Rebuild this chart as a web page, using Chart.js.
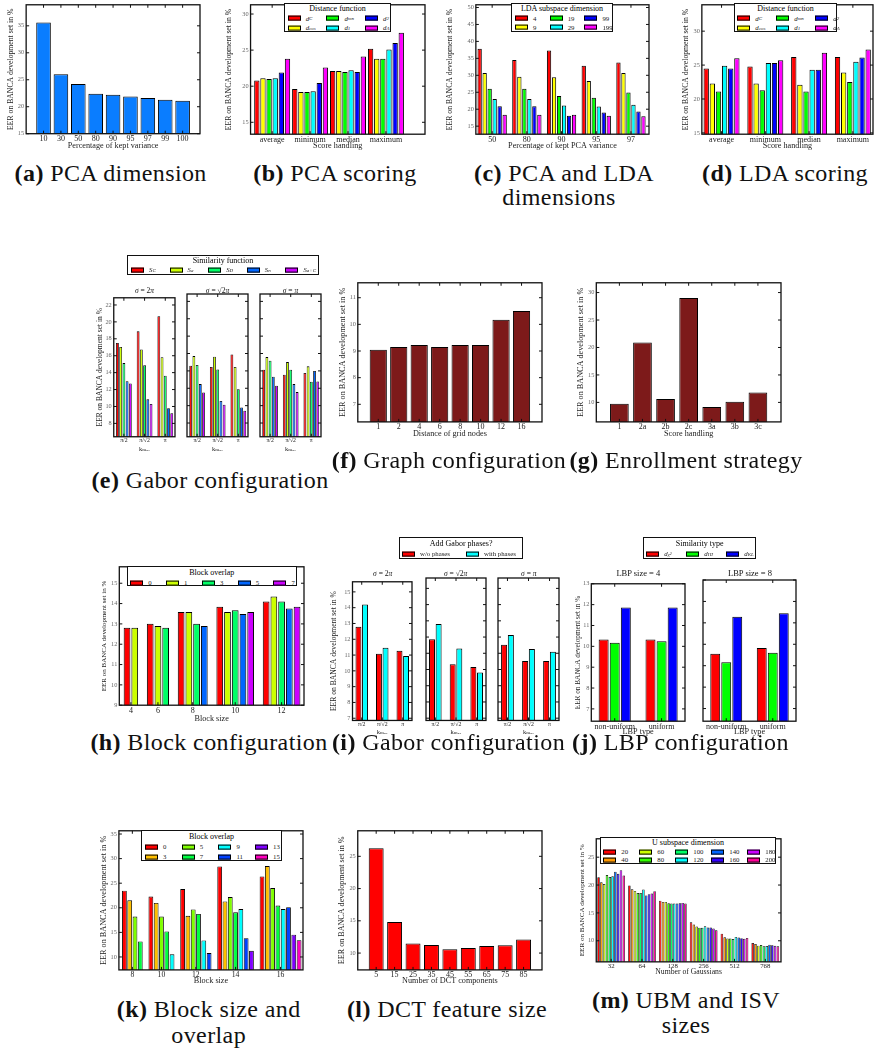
<!DOCTYPE html>
<html>
<head>
<meta charset="utf-8">
<title>BANCA EER experiments</title>
<script src="https://cdn.jsdelivr.net/npm/chart.js@4.4.1/dist/chart.umd.min.js"></script>
<style>
  body { margin: 0; background: #fff; }
  #page { position: relative; width: 874px; height: 1050px; overflow: hidden; background: #fff;
          font-family: "Liberation Serif", "DejaVu Serif", serif; color: #111; }
  #page canvas { position: absolute; }
  .cap { position: absolute; font-size: 24px; letter-spacing: 0.4px; white-space: nowrap; line-height: 1;
         transform: translate(-50%, -50%); color: #111; }
  .leg { position: absolute; border: 1.3px solid #111; background: #fff; box-sizing: border-box; color: #000; }
  .leg .t { position: absolute; left: 0; right: 0; text-align: center; font-size: 8px; line-height: 1;
            transform: translateY(-50%); color: #000; }
  .leg .e { position: absolute; font-size: 6.8px; line-height: 1; white-space: nowrap; transform: translateY(-50%);
            display: flex; align-items: center; font-style: italic; color: #222; }
  .leg .e.up { font-style: normal; }
  .leg .sw { display: inline-block; width: 13px; height: 5px; border: 1px solid #000; box-sizing: border-box; margin-right: 5px; }
  .leg sub { font-size: 5px; vertical-align: -1px; }
  .sub { position: absolute; font-size: 7.5px; transform: translate(-50%, -50%); white-space: nowrap; line-height: 1; color: #111; }
</style>
</head>
<body>
<div id="page"></div>
<script>
// (a) PCA dimension
const pcaVariance = ['10', '30', '50', '80', '90', '95', '97', '99', '100'];
const pcaEER = [35.6, 26.0, 24.2, 22.4, 22.2, 21.9, 21.6, 21.3, 21.1];
const aYTicks = [15, 20, 25, 30, 35];

// (b) PCA scoring and (d) LDA scoring, one row per distance function
const scoreHandling = ['average', 'minimum', 'median', 'maximum'];
const distNames = ['d<sub>C</sub>', 'd<sub>cos</sub>', 'd<sub>mn</sub>', 'd<sub>1</sub>', 'd<sub>2</sub>', 'd<sub>Λ</sub>'];
const distColors = ['#ff0000', '#ffff00', '#00ff00', '#00ffff', '#0000ff', '#ff00ff'];
const pcaScoring = [
  [20.8, 19.6, 22.1, 25.2],
  [21.1, 19.2, 22.1, 23.8],
  [21.0, 19.2, 21.95, 23.8],
  [21.1, 19.3, 22.2, 25.1],
  [21.9, 20.45, 21.95, 26.0],
  [23.8, 22.6, 24.1, 27.4]
];
const bYTicks = [15, 20, 25, 30];
const ldaScoring = [
  [24.5, 24.8, 26.2, 26.2],
  [22.3, 22.3, 22.1, 23.9],
  [21.1, 21.3, 21.1, 22.5],
  [24.9, 25.3, 24.3, 25.5],
  [24.5, 25.3, 24.3, 26.1],
  [26.0, 25.7, 26.8, 27.3]
];
const dYTicks = [15, 20, 25, 30];

// (c) PCA and LDA dimensions, one row per LDA dimension
const pcaKept = ['50', '80', '90', '95', '97'];
const ldaDims = ['4', '9', '19', '29', '99', '199'];
const ldaEER = [
  [37.8, 34.5, 37.3, 32.8, 33.8],
  [30.7, 29.6, 29.4, 28.3, 30.7],
  [26.0, 26.0, 23.9, 23.4, 24.9],
  [23.0, 23.0, 21.1, 20.8, 21.3],
  [20.9, 20.9, 18.1, 19.0, 19.3],
  [18.4, 18.4, 18.4, 18.1, 17.95]
];
const cYTicks = [15, 20, 25, 30, 35, 40, 45, 50];

// (e) Gabor configuration, one row per similarity function
const kmaxLabels = ['π/2', 'π/√2', 'π'];
const simNames = ['S<sub>C</sub>', 'S<sub>a</sub>', 'S<sub>D</sub>', 'S<sub>n</sub>', 'S<sub>a+C</sub>'];
const gaborSigma2pi = [
  [17.5, 18.88, 20.68], [17.04, 16.74, 15.82], [15.13, 14.86, 13.63], [12.98, 10.84, 9.8], [12.71, 10.3, 9.19]
];
const gaborSigmaSqrt2pi = [
  [14.59, 14.44, 15.89], [15.7, 15.62, 14.44], [14.67, 14.17, 11.9], [12.48, 10.53, 9.8], [11.52, 10.1, 9.42]
];
const gaborSigmaPi = [
  [14.13, 13.56, 13.75], [15.59, 15.01, 14.52], [15.16, 14.13, 12.75], [13.33, 12.48, 13.98], [12.29, 11.56, 12.79]
];
const eYTicks = [8, 10, 12, 14, 16, 18, 20, 22];

// (f) graph configuration
const gridDistance = ['1', '2', '4', '6', '8', '10', '12', '16'];
const graphEER = [9.05, 9.15, 9.23, 9.15, 9.23, 9.23, 10.17, 10.5];
const fYTicks = [7, 8, 9, 10, 11];

// (g) enrollment strategy
const enrollHandling = ['1', '2a', '2b', '2c', '3a', '3b', '3c'];
const enrollEER = [9.76, 20.9, 10.6, 28.99, 9.17, 10.1, 11.8];
const gYTicks = [10, 15, 20, 25, 30];

// (h) block configuration, one row per block size (missing overlaps left out)
const blockSizesH = ['4', '6', '8', '10', '12'];
const overlapH = ['0', '1', '3', '5', '7'];
const blockEER = [
  [12.81, 12.81],
  [13.01, 12.9, 12.81],
  [13.59, 13.59, 13.01, 12.9],
  [13.84, 13.59, 13.67, 13.49, 13.59],
  [14.1, 14.35, 14.1, 13.76, 13.84]
];
const hYTicks = [9, 10, 11, 12, 13, 14, 15];

// (i) Gabor phases, rows: w/o phases, with phases
const phaseNames = ['w/o phases', 'with phases'];
const phaseSigma2pi = [[12.8, 11.08, 11.27], [14.2, 11.47, 10.94]];
const phaseSigmaSqrt2pi = [[11.87, 10.32, 10.16], [12.81, 11.29, 9.81]];
const phaseSigmaPi = [[11.53, 10.52, 10.53], [12.13, 11.27, 11.1]];
const iYTicks = [7, 8, 9, 10, 11, 12, 13, 14, 15];

// (j) LBP configuration, one row per similarity type
const lbpTypes = ['non-uniform', 'uniform'];
const lbpSimNames = ['d<sub>χ²</sub>', 'd<sub>HI</sub>', 'd<sub>KL</sub>'];
const lbpSize4 = [[10.33, 10.33], [10.17, 10.25], [11.86, 11.86]];
const lbpSize8 = [[9.56, 9.83], [9.16, 9.6], [11.28, 11.45]];
const jYTicks = [7, 8, 9, 10, 11, 12, 13];

// (k) block size and overlap, one row per block size
const blockSizesK = ['8', '10', '12', '14', '16'];
const overlapK = ['0', '3', '5', '7', '9', '11', '13', '15'];
const blockOverlapEER = [
  [23.49, 21.51, 18.22, 13.16],
  [22.3, 20.99, 18.22, 15.2, 10.53],
  [23.82, 18.36, 19.67, 18.75, 13.36, 10.8],
  [28.42, 21.3, 22.17, 19.08, 19.74, 13.82, 11.25],
  [26.38, 28.49, 24.01, 20.46, 19.74, 20.13, 14.54, 13.42]
];
const kYTicks = [10, 15, 20, 25, 30, 35];

// (l) DCT feature size
const dctComponents = ['5', '15', '25', '35', '45', '55', '65', '75', '85'];
const dctEER = [26.26, 14.83, 11.5, 11.25, 10.6, 10.8, 11.1, 11.2, 12.1];
const lYTicks = [10, 15, 20, 25];

// (m) UBM and ISV sizes, one row per number of gaussians
const gaussians = ['32', '64', '128', '256', '512', '768'];
const uDims = ['20', '40', '60', '80', '100', '120', '140', '160', '180', '200'];
const ubmEER = [
  [21.4, 20.5, 20.2, 21.8, 21.45, 21.57, 22.38, 22.03, 22.67, 21.69],
  [19.94, 19.24, 18.95, 18.55, 18.55, 19.19, 18.14, 18.37, 18.49, 18.9],
  [17.2, 16.98, 16.98, 16.74, 16.69, 16.69, 16.69, 16.74, 16.8, 16.69],
  [13.31, 12.9, 12.56, 12.33, 12.33, 12.62, 12.38, 12.38, 12.2, 11.9],
  [11.28, 10.64, 10.4, 10.4, 10.3, 10.7, 10.58, 10.47, 10.35, 10.52],
  [9.6, 9.42, 9.13, 9.24, 9.0, 9.07, 9.3, 9.19, 9.1, 9.0]
];
const mYTicks = [10, 15, 20, 25];

const hsv5 = ['#ff0000', '#ccff00', '#00ff66', '#0066ff', '#cc00ff'];
const hsv8 = ['#ff0000', '#ffbf00', '#80ff00', '#00ff40', '#00ffff', '#0040ff', '#8000ff', '#ff00bf'];
const hsv10 = ['#ff0000', '#ff9900', '#ccff00', '#33ff00', '#00ff66', '#00ffff', '#0066ff', '#3300ff', '#cc00ff', '#ff0099'];
const maroon = '#7d1a1a';

const page = document.getElementById('page');
const FONT = '"Liberation Serif", "DejaVu Serif", serif';
const Y_TITLE = 'EER on BANCA development set in %';
const K_MAX = 'kₘₐₓ';

// black frame round the plot plus inward ticks on all four sides
const framePlugin = {
  id: 'frame',
  afterDatasetsDraw(chart) {
    const { ctx, chartArea: a, scales } = chart;
    ctx.save();
    ctx.strokeStyle = '#111';
    ctx.lineWidth = 1;
    ctx.beginPath();
    scales.y.ticks.forEach(t => {
      const p = scales.y.getPixelForValue(t.value);
      ctx.moveTo(a.left, p); ctx.lineTo(a.left + 3, p);
      ctx.moveTo(a.right, p); ctx.lineTo(a.right - 3, p);
    });
    scales.x.ticks.forEach(t => {
      const p = scales.x.getPixelForValue(t.value);
      ctx.moveTo(p, a.bottom); ctx.lineTo(p, a.bottom - 3);
      ctx.moveTo(p, a.top); ctx.lineTo(p, a.top + 3);
    });
    ctx.stroke();
    ctx.lineWidth = 1.3;
    ctx.strokeRect(a.left, a.top, a.right - a.left, a.bottom - a.top);
    ctx.restore();
  }
};

const positions = n => Array.from({ length: n }, (_, i) => i + 1);

const bars = (vals, color) => ({ data: vals.map((v, i) => ({ x: i + 1, y: v })), backgroundColor: color });

// groups of unequal size packed next to each other, one empty slot between groups
const packGroups = (groups, colors) => {
  const pts = [], cols = [], centers = [];
  let slot = 0;
  groups.forEach(g => {
    const start = slot;
    g.forEach((v, k) => { pts.push({ x: slot++, y: v }); cols.push(colors[k]); });
    centers.push((start + slot - 1) / 2);
    slot++;
  });
  return { pts, cols, centers };
};

const makeChart = (o) => {
  const [l, t, r, b] = o.box;
  const f = Object.assign({ tick: 8, xTitle: 8.2, yTitle: 7.7, yTick: 6.3 }, o.fonts);
  // y title centre and x title centre are given, margins follow from them
  const m = { l: 2, t: 2, r: 2, b: 2 };
  if (o.yTitleX !== undefined) m.l = l - o.yTitleX + f.yTitle / 2;
  if (o.xTitleY !== undefined) m.b = o.xTitleY - b + f.xTitle / 2;
  const cv = document.createElement('canvas');
  cv.width = Math.round(r - l + m.l + m.r);
  cv.height = Math.round(b - t + m.t + m.b);
  cv.style.left = (l - m.l) + 'px';
  cv.style.top = (t - m.t) + 'px';
  page.appendChild(cv);
  return new Chart(cv, {
    type: 'bar',
    data: { datasets: o.datasets },
    options: {
      responsive: false,
      animation: false,
      devicePixelRatio: 1,
      layout: { padding: { top: m.t, right: m.r, left: 0, bottom: 0 } },
      plugins: { legend: { display: false }, tooltip: { enabled: false } },
      datasets: { bar: { categoryPercentage: o.cat, barPercentage: o.bar, borderColor: '#000', borderWidth: o.bw ?? 1 } },
      scales: {
        x: {
          type: 'linear', min: o.xMin, max: o.xMax, offset: false,
          grid: { display: false, drawTicks: false }, border: { display: false },
          afterBuildTicks: s => { s.ticks = o.xTicks.map(v => ({ value: v })); },
          afterFit: s => { s.height = m.b; },
          ticks: { autoSkip: false, maxRotation: 0, padding: 0.5, color: '#222',
                   font: { family: FONT, size: f.tick }, callback: (v, i) => o.xLabels[i] },
          title: { display: !!o.xTitle, text: o.xTitle, color: '#222', padding: 0,
                   font: { family: FONT, size: f.xTitle, lineHeight: 1 } }
        },
        y: {
          min: o.yMin, max: o.yMax,
          grid: { display: false, drawTicks: false }, border: { display: false },
          afterBuildTicks: s => { s.ticks = o.yTicks.map(v => ({ value: v })); },
          afterFit: s => { s.width = m.l; },
          ticks: { display: o.yTitleX !== undefined, padding: 2, color: '#666', font: { family: FONT, size: f.yTick } },
          title: { display: o.yTitleX !== undefined, text: Y_TITLE, color: '#222', padding: 0,
                   font: { family: FONT, size: f.yTitle, lineHeight: 1 } }
        }
      }
    },
    plugins: [framePlugin]
  });
};

const addLegend = (o) => {
  const d = document.createElement('div');
  d.className = 'leg';
  Object.assign(d.style, { left: o.left + 'px', top: o.top + 'px', width: o.width + 'px', height: o.height + 'px' });
  let html = `<div class="t" style="top:${o.titleY}px">${o.title}</div>`;
  o.names.forEach((n, i) => {
    const col = Math.floor(i / o.rows), row = i % o.rows;
    html += `<div class="e${o.upright ? ' up' : ''}" style="left:${o.padL + col * o.pitch}px;top:${o.rowY[row]}px">` +
            `<span class="sw" style="background:${o.colors[i]}"></span>${n}</div>`;
  });
  d.innerHTML = html;
  page.appendChild(d);
};

const addText = (cls, x, y, html, style) => {
  const d = document.createElement('div');
  d.className = cls;
  d.style.left = x + 'px';
  d.style.top = y + 'px';
  if (style) d.style.cssText += style;
  d.innerHTML = html;
  page.appendChild(d);
};

// ---------- row 1 ----------
makeChart({
  box: [26, 0.5, 200, 133.5], yTitleX: 10.7, xTitleY: 145.7,
  datasets: [bars(pcaEER, '#0a7dff')],
  xMin: 0, xMax: 10, xTicks: positions(9), xLabels: pcaVariance, xTitle: 'Percentage of kept variance',
  yMin: 15, yMax: 38.9, yTicks: aYTicks, cat: 0.84, bar: 1
});

makeChart({
  box: [251, 0.5, 425, 134], yTitleX: 229.3, xTitleY: 145.7,
  datasets: pcaScoring.map((s, k) => bars(s, distColors[k])),
  xMin: 0.43, xMax: 5.03, xTicks: positions(4), xLabels: scoreHandling, xTitle: 'Score handling',
  yMin: 13.35, yMax: 31.28, yTicks: bYTicks, cat: 0.97, bar: 0.87
});
addLegend({ left: 284, top: 3, width: 107, height: 29, title: 'Distance function', names: distNames, colors: distColors,
            rows: 2, titleY: 4.5, rowY: [14.5, 24], padL: 2.7, pitch: 38.7 });

makeChart({
  box: [476, 0.5, 649, 134], yTitleX: 450, xTitleY: 145.7,
  datasets: ldaEER.map((s, k) => bars(s, distColors[k])),
  xMin: 0.53, xMax: 5.52, xTicks: positions(5), xLabels: pcaKept, xTitle: 'Percentage of kept PCA variance',
  yMin: 12.63, yMax: 50.8, yTicks: cYTicks, cat: 0.865, bar: 0.86
});
addLegend({ left: 511, top: 3, width: 102, height: 29, title: 'LDA subspace dimension', names: ldaDims, colors: distColors,
            rows: 2, titleY: 4.5, rowY: [14.5, 23.5], padL: 3, pitch: 34.7, upright: true });

makeChart({
  box: [702, 0.5, 873, 134], yTitleX: 686, xTitleY: 145.7,
  datasets: ldaScoring.map((s, k) => bars(s, distColors[k])),
  xMin: 0.55, xMax: 4.46, xTicks: positions(4), xLabels: scoreHandling, xTitle: 'Score handling',
  yMin: 14.81, yMax: 33.89, yTicks: dYTicks, cat: 0.84, bar: 0.87
});
addLegend({ left: 734, top: 3, width: 103, height: 29, title: 'Distance function', names: distNames, colors: distColors,
            rows: 2, titleY: 4.5, rowY: [14.5, 24], padL: 2.3, pitch: 39 });

addText('cap', 110.7, 173, '<b>(a)</b> PCA dimension');
addText('cap', 335, 173, '<b>(b)</b> PCA scoring');
addText('cap', 564, 173, '<b>(c)</b> PCA and LDA');
addText('cap', 559, 197, 'dimensions');
addText('cap', 785, 173, '<b>(d)</b> LDA scoring');

// ---------- row 2 ----------
const smallFonts = { tick: 5.8, xTitle: 6.5, yTitle: 7.5 };
const gaborPanels = [gaborSigma2pi, gaborSigmaSqrt2pi, gaborSigmaPi];
const gaborBoxes = [[114, 294.3, 175, 437], [187, 294.3, 248, 437], [260, 294.3, 321, 437]];
const sigmaTitles = ['<i>σ</i> = 2<i>π</i>', '<i>σ</i> = √2<i>π</i>', '<i>σ</i> = <i>π</i>'];
gaborPanels.forEach((panel, p) => {
  makeChart({
    box: gaborBoxes[p], yTitleX: p === 0 ? 100 : undefined, xTitleY: 450, fonts: smallFonts,
    datasets: panel.map((s, k) => bars(s, hsv5[k])),
    xMin: 0.51, xMax: 3.47, xTicks: positions(3), xLabels: kmaxLabels, xTitle: K_MAX,
    yMin: 6.42, yMax: 22.85, yTicks: eYTicks, cat: 0.78, bar: 0.87, bw: 0.8
  });
  addText('sub', (gaborBoxes[p][0] + gaborBoxes[p][2]) / 2, 290.7, sigmaTitles[p]);
});
addLegend({ left: 127, top: 255, width: 192, height: 20, title: 'Similarity function', names: simNames, colors: hsv5,
            rows: 1, titleY: 5, rowY: [14.3], padL: 3, pitch: 38.6 });

makeChart({
  box: [357.7, 279.3, 542.3, 422], yTitleX: 343, xTitleY: 434, fonts: { yTitle: 8.2 },
  datasets: [bars(graphEER, maroon)],
  xMin: 0, xMax: 9, xTicks: positions(8), xLabels: gridDistance, xTitle: 'Distance of grid nodes',
  yMin: 6.34, yMax: 11.56, yTicks: fYTicks, cat: 0.84, bar: 1
});

makeChart({
  box: [596.7, 279.3, 781.3, 422], yTitleX: 581.5, xTitleY: 434, fonts: { yTitle: 8.2 },
  datasets: [bars(enrollEER, maroon)],
  xMin: 0, xMax: 8, xTicks: positions(7), xLabels: enrollHandling, xTitle: 'Score handling',
  yMin: 6.45, yMax: 31.78, yTicks: gYTicks, cat: 0.81, bar: 1
});

addText('cap', 210, 480, '<b>(e)</b> Gabor configuration');
addText('cap', 449, 460, '<b>(f)</b> Graph configuration');
addText('cap', 686, 460, '<b>(g)</b> Enrollment strategy');

// ---------- row 3 ----------
const hPack = packGroups(blockEER, hsv5);
makeChart({
  box: [119.3, 562.7, 303.7, 705.3], yTitleX: 104.5, xTitleY: 719, fonts: { yTitle: 7 },
  datasets: [{ data: hPack.pts, backgroundColor: hPack.cols }],
  xMin: -1.0, xMax: 22.9, xTicks: hPack.centers, xLabels: blockSizesH, xTitle: 'Block size',
  yMin: 9, yMax: 15.81, yTicks: hYTicks, cat: 1, bar: 0.87
});
addLegend({ left: 126.7, top: 566, width: 170, height: 20, title: 'Block overlap', names: overlapH, colors: hsv5,
            rows: 1, titleY: 6.3, rowY: [15.7], padL: 2.6, pitch: 35.8, upright: true });

const phasePanels = [phaseSigma2pi, phaseSigmaSqrt2pi, phaseSigmaPi];
const phaseBoxes = [[352.7, 578.3, 412.7, 721], [425.7, 578.3, 485.7, 721], [498.3, 578.3, 559.3, 721]];
phasePanels.forEach((panel, p) => {
  makeChart({
    box: phaseBoxes[p], yTitleX: p === 0 ? 334 : undefined, xTitleY: 733.3, fonts: { tick: 5.8, xTitle: 6.5, yTitle: 7.6 },
    datasets: panel.map((s, k) => bars(s, ['#ff0000', '#00ffff'][k])),
    xMin: 0.55, xMax: 3.45, xTicks: positions(3), xLabels: kmaxLabels, xTitle: K_MAX,
    yMin: 6.86, yMax: 15.64, yTicks: iYTicks, cat: 0.64, bar: 0.9
  });
  addText('sub', (phaseBoxes[p][0] + phaseBoxes[p][2]) / 2, 574.3, sigmaTitles[p]);
});
addLegend({ left: 399, top: 537.3, width: 124.3, height: 22, title: 'Add Gabor phases?', names: phaseNames,
            colors: ['#ff0000', '#00ffff'], rows: 1, titleY: 6, rowY: [16], padL: 2, pitch: 64, upright: true });

const lbpPanels = [lbpSize4, lbpSize8];
const lbpBoxes = [[591.7, 580.3, 685, 721], [703.3, 580.3, 796.6, 721]];
const lbpTitles = ['LBP size = 4', 'LBP size = 8'];
lbpPanels.forEach((panel, p) => {
  makeChart({
    box: lbpBoxes[p], yTitleX: p === 0 ? 579 : undefined, xTitleY: 731.7, fonts: { yTitle: 7.2 },
    datasets: panel.map((s, k) => bars(s, ['#ff0000', '#00ff00', '#0000ff'][k])),
    xMin: 0.5, xMax: 2.5, xTicks: positions(2), xLabels: lbpTypes, xTitle: 'LBP type',
    yMin: 6.41, yMax: 13.0, yTicks: jYTicks, cat: 0.71, bar: 0.9
  });
  addText('sub', (lbpBoxes[p][0] + lbpBoxes[p][2]) / 2, 573.3, lbpTitles[p], 'font-size:8.5px');
});
addLegend({ left: 643.3, top: 537.3, width: 112.7, height: 22, title: 'Similarity type', names: lbpSimNames,
            colors: ['#ff0000', '#00ff00', '#0000ff'], rows: 1, titleY: 6, rowY: [16], padL: 2, pitch: 40 });

addText('cap', 209, 742, '<b>(h)</b> Block configuration');
addText('cap', 448.5, 742, '<b>(i)</b> Gabor configuration');
addText('cap', 680.5, 742, '<b>(j)</b> LBP configuration');

// ---------- row 4 ----------
const kPack = packGroups(blockOverlapEER, hsv8);
makeChart({
  box: [119.3, 826.7, 303.7, 970], yTitleX: 104.5, xTitleY: 981, fonts: { yTitle: 8.2, tick: 7.7 },
  datasets: [{ data: kPack.pts, backgroundColor: kPack.cols }],
  xMin: -1.04, xMax: 33.74, xTicks: kPack.centers, xLabels: blockSizesK, xTitle: 'Block size',
  yMin: 7.37, yMax: 35.66, yTicks: kYTicks, cat: 1, bar: 0.9, bw: 0.9
});
addLegend({ left: 140.7, top: 830, width: 141.6, height: 30.7, title: 'Block overlap', names: overlapK, colors: hsv8,
            rows: 2, titleY: 6, rowY: [15.7, 25.7], padL: 3.3, pitch: 36.7, upright: true });

makeChart({
  box: [357.7, 826.7, 542.3, 970], yTitleX: 342, xTitleY: 981, fonts: { yTitle: 8.1 },
  datasets: [bars(dctEER, '#ff0000')],
  xMin: 0, xMax: 10, xTicks: positions(9), xLabels: dctComponents, xTitle: 'Number of DCT components',
  yMin: 7.39, yMax: 28.96, yTicks: lYTicks, cat: 0.81, bar: 1
});

const mPack = packGroups(ubmEER, hsv10);
makeChart({
  box: [596.7, 835.3, 781.3, 962], yTitleX: 583, xTitleY: 972.3, fonts: { yTitle: 7.1, tick: 6.8, xTitle: 7.7 },
  datasets: [{ data: mPack.pts, backgroundColor: mPack.cols }],
  xMin: -0.82, xMax: 65.1, xTicks: mPack.centers, xLabels: gaussians, xTitle: 'Number of Gaussians',
  yMin: 6.22, yMax: 28.3, yTicks: mYTicks, cat: 1, bar: 0.9, bw: 0.7
});
addLegend({ left: 600, top: 837, width: 176, height: 27, title: 'U subspace dimension', names: uDims, colors: hsv10,
            rows: 2, titleY: 5.3, rowY: [14.3, 22], padL: 2.3, pitch: 36, upright: true });

addText('cap', 208.7, 1009.3, '<b>(k)</b> Block size and');
addText('cap', 208.7, 1035, 'overlap');
addText('cap', 447, 1009.3, '<b>(l)</b> DCT feature size');
addText('cap', 686, 1000, '<b>(m)</b> UBM and ISV');
addText('cap', 686, 1025, 'sizes');
</script>
</body>
</html>
